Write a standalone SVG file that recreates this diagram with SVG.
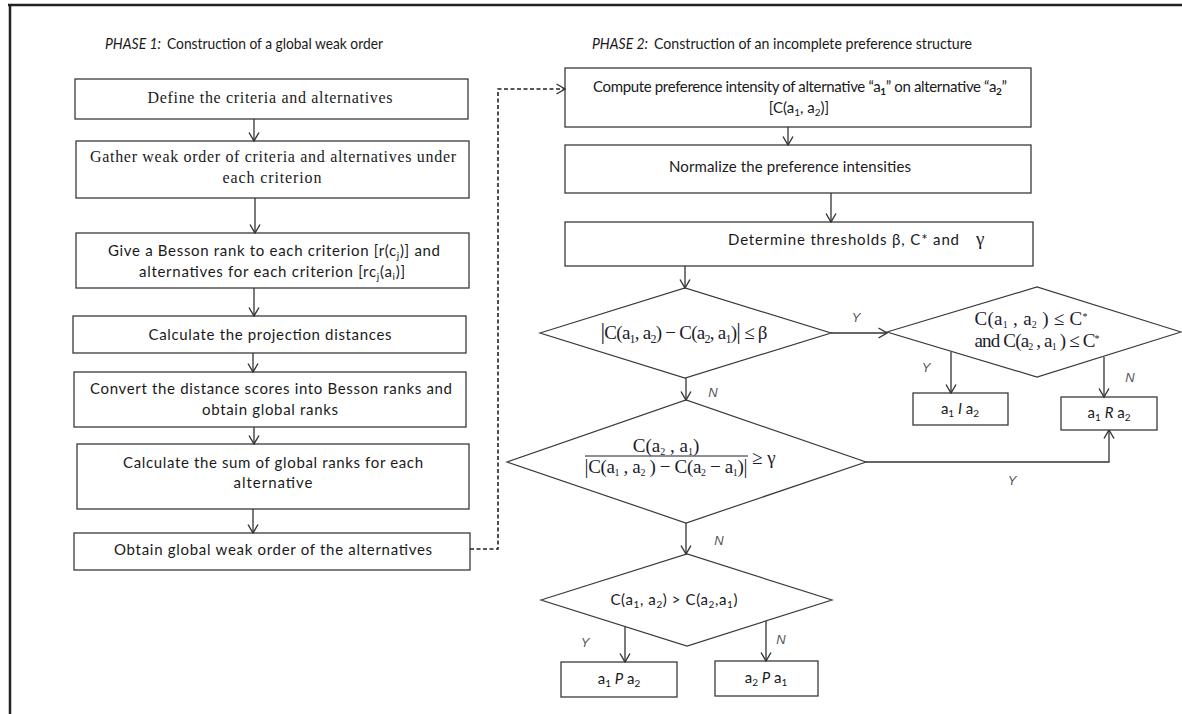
<svg xmlns="http://www.w3.org/2000/svg" width="1182" height="714" viewBox="0 0 1182 714">
<style>
.box{fill:#fff;stroke:#3a3a3a;stroke-width:1.3}
.dia{fill:#fff;stroke:#3a3a3a;stroke-width:1.2}
.sans{font-family:Lato,"Liberation Sans",sans-serif;font-size:15px;fill:#1a1a1a}
.serif{font-family:"Liberation Serif",serif;font-size:16px;fill:#1a1a1a}
.math{font-family:"Liberation Serif",serif;font-size:19px;fill:#1c1c2c}
.lbl{font-family:"Liberation Sans",sans-serif;font-style:italic;font-size:13px;fill:#555}
.title{font-family:Lato,"Liberation Sans",sans-serif;font-size:16px;fill:#1a1a1a}
.conn{fill:none;stroke:#333;stroke-width:1.3}
.dash{fill:none;stroke:#222;stroke-width:1.6;stroke-dasharray:4 2.5}
</style>
<defs>
<marker id="arr" viewBox="0 0 10 12" refX="9.5" refY="6" markerWidth="10" markerHeight="12" markerUnits="userSpaceOnUse" orient="auto">
<path d="M1,1 L9.5,6 L1,11" fill="none" stroke="#333" stroke-width="1.4"/>
</marker>
</defs>
<rect width="1182" height="714" fill="#fff"/>
<g id="frame">
<line x1="8" y1="5" x2="1182" y2="5" stroke="#222" stroke-width="2.5"/>
<line x1="10" y1="4" x2="10" y2="714" stroke="#222" stroke-width="2.5"/>
</g>
<g id="titles">
<text class="title" x="105" y="49" font-style="italic" textLength="56" lengthAdjust="spacingAndGlyphs">PHASE 1:</text>
<text class="title" x="167" y="49" textLength="216" lengthAdjust="spacingAndGlyphs">Construction of a global weak order</text>
<text class="title" x="592" y="49" font-style="italic" textLength="56" lengthAdjust="spacingAndGlyphs">PHASE 2:</text>
<text class="title" x="654" y="49" textLength="318" lengthAdjust="spacingAndGlyphs">Construction of an incomplete preference structure</text>
</g>
<g id="p1-define">
<rect class="box" x="75" y="79" width="393" height="40"/>
<text class="serif" x="270" y="103" text-anchor="middle" textLength="245">Define the criteria and alternatives</text>
</g>
<g id="p1-gather">
<rect class="box" x="76" y="141" width="393" height="57"/>
<text class="serif" x="273" y="162" text-anchor="middle" textLength="366">Gather weak order of criteria and alternatives under</text>
<text class="serif" x="272" y="183" text-anchor="middle" textLength="99">each criterion</text>
</g>
<g id="p1-besson">
<rect class="box" x="76" y="233" width="393" height="55"/>
<text class="sans" x="274" y="256" text-anchor="middle" textLength="332">Give a Besson rank to each criterion [r(c<tspan dy="3" font-size="10">j</tspan><tspan dy="-3">)] and</tspan></text>
<text class="sans" x="272" y="277" text-anchor="middle" textLength="266">alternatives for each criterion [rc<tspan dy="3" font-size="10">j</tspan><tspan dy="-3">(a</tspan><tspan dy="3" font-size="10">i</tspan><tspan dy="-3">)]</tspan></text>
</g>
<g id="p1-projection">
<rect class="box" x="73" y="316" width="393" height="37"/>
<text class="sans" x="270" y="340" text-anchor="middle" textLength="243">Calculate the projection distances</text>
</g>
<g id="p1-convert">
<rect class="box" x="74" y="372" width="392" height="55"/>
<text class="sans" x="271" y="394" text-anchor="middle" textLength="362">Convert the distance scores into Besson ranks and</text>
<text class="sans" x="270" y="415" text-anchor="middle" textLength="136">obtain global ranks</text>
</g>
<g id="p1-sum">
<rect class="box" x="77" y="444" width="392" height="65"/>
<text class="sans" x="273" y="468" text-anchor="middle" textLength="300">Calculate the sum of global ranks for each</text>
<text class="sans" x="273" y="488" text-anchor="middle" textLength="79">alternative</text>
</g>
<g id="p1-obtain">
<rect class="box" x="74" y="533" width="396" height="37"/>
<text class="sans" x="273" y="555" text-anchor="middle" textLength="318">Obtain global weak order of the alternatives</text>
</g>
<g id="p2-compute">
<rect class="box" x="565" y="68" width="466" height="59"/>
<text class="sans" x="800" y="92" text-anchor="middle" textLength="414">Compute preference intensity of alternative “a<tspan dy="3" font-size="10" font-weight="bold">1</tspan><tspan dy="-3">”  on alternative “a</tspan><tspan dy="3" font-size="10" font-weight="bold">2</tspan><tspan dy="-3">”</tspan></text>
<text class="sans" x="799" y="113" text-anchor="middle">[C(a<tspan dy="3" font-size="10">1</tspan><tspan dy="-3">, a</tspan><tspan dy="3" font-size="10">2</tspan><tspan dy="-3">)]</tspan></text>
</g>
<g id="p2-normalize">
<rect class="box" x="565" y="145" width="466" height="48"/>
<text class="sans" x="790" y="172" text-anchor="middle" textLength="242">Normalize the preference intensities</text>
</g>
<g id="p2-thresholds">
<rect class="box" x="565" y="222" width="468" height="44"/>
<text class="sans" x="728" y="245" textLength="231">Determine thresholds β, C* and</text>
<text class="math" x="976" y="245" font-size="16" fill="#3a3a60">γ</text>
</g>
<g id="d1">
<polygon class="dia" points="540,333 685,288 831,333 685,378"/>
<text class="math" x="684" y="339" text-anchor="middle" textLength="167"><tspan font-size="23">|</tspan>C(a<tspan dy="4" font-size="12">1</tspan><tspan dy="-4">, a</tspan><tspan dy="4" font-size="12">2</tspan><tspan dy="-4">) − C(a</tspan><tspan dy="4" font-size="12">2</tspan><tspan dy="-4">, a</tspan><tspan dy="4" font-size="12">1</tspan><tspan dy="-4">)</tspan><tspan font-size="23">|</tspan> ≤ β</text>
</g>
<g id="d4">
<polygon class="dia" points="887,332 1037,287 1181,332 1037,377"/>
<text class="math" x="1031" y="325" text-anchor="middle" font-size="14" textLength="113">C(a<tspan dy="3" font-size="10">1</tspan><tspan dy="-3"> , a</tspan><tspan dy="3" font-size="10">2</tspan><tspan dy="-3"> ) ≤ C</tspan><tspan dy="-5" font-size="10">*</tspan></text>
<text class="math" x="1037" y="347" text-anchor="middle" font-size="14" textLength="125">and  C(a<tspan dy="3" font-size="10">2</tspan><tspan dy="-3"> , a</tspan><tspan dy="3" font-size="10">1</tspan><tspan dy="-3"> ) ≤ C</tspan><tspan dy="-5" font-size="10">*</tspan></text>
</g>
<g id="r-indiff">
<rect class="box" x="913" y="393" width="95" height="32"/>
<text class="sans" x="960" y="414" text-anchor="middle">a<tspan dy="3" font-size="10">1</tspan><tspan dy="-3"> </tspan><tspan font-style="italic">I</tspan> a<tspan dy="3" font-size="10">2</tspan></text>
</g>
<g id="r-incomp">
<rect class="box" x="1061" y="397" width="96" height="33"/>
<text class="sans" x="1109" y="418" text-anchor="middle">a<tspan dy="3" font-size="10">1</tspan><tspan dy="-3">  </tspan><tspan font-style="italic">R</tspan> a<tspan dy="3" font-size="10">2</tspan></text>
</g>
<g id="d2">
<polygon class="dia" points="507,462 686,400 866,462 686,523"/>
<text class="math" x="666" y="452" text-anchor="middle" font-size="16">C(a<tspan dy="3" font-size="10">2</tspan><tspan dy="-3"> , a</tspan><tspan dy="3" font-size="10">1</tspan><tspan dy="-3">)</tspan></text>
<line x1="585" y1="456" x2="748" y2="456" stroke="#1c1c2c" stroke-width="1"/>
<text class="math" x="666" y="473" text-anchor="middle" font-size="16" textLength="163"><tspan font-size="20">|</tspan>C(a<tspan dy="3" font-size="10">1</tspan><tspan dy="-3"> , a</tspan><tspan dy="3" font-size="10">2</tspan><tspan dy="-3"> ) − C(a</tspan><tspan dy="3" font-size="10">2</tspan><tspan dy="-3"> − a</tspan><tspan dy="3" font-size="10">1</tspan><tspan dy="-3">)</tspan><tspan font-size="20">|</tspan></text>
<text class="math" x="752" y="464" font-size="17">≥ γ</text>
</g>
<g id="d3">
<polygon class="dia" points="541,600 687,554 832,600 687,646"/>
<text class="sans" x="674" y="605" text-anchor="middle" textLength="127">C(a<tspan dy="3" font-size="10">1</tspan><tspan dy="-3">, a</tspan><tspan dy="3" font-size="10">2</tspan><tspan dy="-3">) &gt; C(a</tspan><tspan dy="3" font-size="10">2</tspan><tspan dy="-3">,a</tspan><tspan dy="3" font-size="10">1</tspan><tspan dy="-3">)</tspan></text>
</g>
<g id="r-p12">
<rect class="box" x="561" y="662" width="116" height="35"/>
<text class="sans" x="619" y="684" text-anchor="middle">a<tspan dy="3" font-size="10">1</tspan><tspan dy="-3"> </tspan><tspan font-style="italic">P</tspan> a<tspan dy="3" font-size="10">2</tspan></text>
</g>
<g id="r-p21">
<rect class="box" x="715" y="661" width="103" height="35"/>
<text class="sans" x="766" y="683" text-anchor="middle">a<tspan dy="3" font-size="10">2</tspan><tspan dy="-3"> </tspan><tspan font-style="italic">P</tspan> a<tspan dy="3" font-size="10">1</tspan></text>
</g>
<g id="connectors">
<line class="conn" x1="254" y1="119" x2="254" y2="141" marker-end="url(#arr)"/>
<line class="conn" x1="255" y1="198" x2="255" y2="233" marker-end="url(#arr)"/>
<line class="conn" x1="254" y1="288" x2="254" y2="316" marker-end="url(#arr)"/>
<line class="conn" x1="253" y1="353" x2="253" y2="372" marker-end="url(#arr)"/>
<line class="conn" x1="254" y1="427" x2="254" y2="444" marker-end="url(#arr)"/>
<line class="conn" x1="253" y1="509" x2="253" y2="533" marker-end="url(#arr)"/>
<polyline class="dash" points="470,549 498,549 498,89 565,89" marker-end="url(#arr)"/>
<line class="conn" x1="788" y1="127" x2="788" y2="145" marker-end="url(#arr)"/>
<line class="conn" x1="831" y1="193" x2="831" y2="222" marker-end="url(#arr)"/>
<line class="conn" x1="685" y1="266" x2="685" y2="288" marker-end="url(#arr)"/>
<line class="conn" x1="831" y1="333" x2="887" y2="333" marker-end="url(#arr)"/>
<line class="conn" x1="951" y1="352" x2="951" y2="393" marker-end="url(#arr)"/>
<line class="conn" x1="1104" y1="357" x2="1104" y2="397" marker-end="url(#arr)"/>
<line class="conn" x1="686" y1="378" x2="686" y2="400" marker-end="url(#arr)"/>
<polyline class="conn" points="866,462 1109,462 1109,430" marker-end="url(#arr)"/>
<line class="conn" x1="686" y1="523" x2="686" y2="554" marker-end="url(#arr)"/>
<line class="conn" x1="625" y1="627" x2="625" y2="662" marker-end="url(#arr)"/>
<line class="conn" x1="766" y1="621" x2="766" y2="661" marker-end="url(#arr)"/>
</g>
<g id="labels">
<text class="lbl" x="856" y="322" text-anchor="middle">Y</text>
<text class="lbl" x="926" y="372" text-anchor="middle">Y</text>
<text class="lbl" x="1130" y="382" text-anchor="middle">N</text>
<text class="lbl" x="713" y="397" text-anchor="middle">N</text>
<text class="lbl" x="1012" y="485" text-anchor="middle">Y</text>
<text class="lbl" x="719" y="545" text-anchor="middle">N</text>
<text class="lbl" x="585" y="647" text-anchor="middle">Y</text>
<text class="lbl" x="781" y="644" text-anchor="middle">N</text>
</g>
</svg>
